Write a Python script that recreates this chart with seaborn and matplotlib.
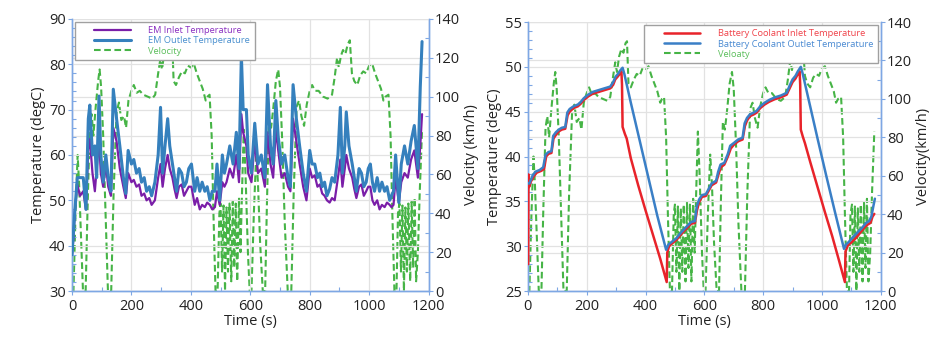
import matplotlib
matplotlib.use("Agg")
import matplotlib.pyplot as plt
import seaborn as sns
from matplotlib.ticker import MultipleLocator
from matplotlib.legend_handler import HandlerLine2D
from matplotlib.lines import Line2D

# ---------------- data ----------------
# drive-cycle velocity (km/h), shared by both charts
vel_t = [0, 5, 12, 19, 24, 30, 37, 46, 52, 60, 66, 72, 80, 88, 93, 98, 105, 113, 121, 132,
         140, 150, 158, 166, 175, 182, 190, 200, 208, 218, 228, 240, 255, 270, 280, 290, 297,
         303, 310, 318, 325, 332, 337, 342, 350, 360, 370, 380, 390, 400, 410, 420, 430, 440,
         450, 456, 463, 470, 476, 483, 490, 496, 500, 505, 510, 515, 520, 525, 530, 536, 541,
         546, 551, 556, 562, 567, 572, 578, 584, 592, 598,
         604, 612, 620, 626, 633, 642, 650, 656, 663, 670, 678, 686, 694, 700, 708, 716, 726,
         738, 746, 756, 764, 772, 781, 790, 800, 808, 818, 830, 845, 860, 875, 884, 892, 898,
         905, 912, 920, 928, 935, 942, 950, 960, 970, 980, 990, 1000, 1010, 1020, 1030, 1040,
         1048, 1055, 1065, 1072, 1078, 1085, 1092, 1097, 1102, 1107, 1112, 1117, 1122, 1127,
         1132, 1138, 1143, 1148, 1153, 1158, 1164, 1170, 1178]
vel_v = [0, 0, 40, 70, 55, 30, 0, 0, 40, 85, 91, 80, 95, 108, 114, 105, 80, 40, 0, 0,
         50, 92, 97, 88, 90, 84, 98, 103, 106, 102, 103, 101, 100, 99, 101, 112, 119,
         114, 122, 126, 124, 129, 130, 108, 106, 110, 113, 112, 116, 115, 117, 112, 108, 104,
         98, 100, 101, 80, 40, 0, 0, 40, 45, 10, 44, 0, 43, 10, 45, 5, 46,
         12, 45, 5, 48, 20, 50, 83, 60, 20, 0,
         0, 40, 71, 55, 25, 0, 0, 45, 88, 84, 95, 108, 114, 105, 75, 35, 0,
         0, 50, 95, 98, 90, 85, 96, 103, 106, 103, 103, 100, 99, 101, 110, 120, 115,
         121, 124, 122, 127, 129, 112, 108, 106, 111, 113, 112, 116, 117, 112, 108, 104,
         98, 100, 101, 80, 40, 0, 0, 40, 45, 10, 44, 0, 43, 10,
         45, 5, 46, 12, 48, 5, 20, 50, 83]

# left chart: EM temperatures (degC)
em_t = [0, 4, 10, 18, 27, 38, 47, 55, 60, 69, 77, 83, 91, 97, 105, 114, 122, 131, 139, 150,
        161, 173, 181, 189, 200, 208, 217, 226, 234, 243, 251, 260, 268, 279, 290, 298, 305,
        313, 322, 329, 338, 345, 352, 360, 369, 377, 385, 393, 402, 413, 421, 430, 438, 447,
        455, 464, 472, 481, 488, 497, 506, 513, 520, 531, 542, 553, 562, 570, 576, 587, 593,
        604, 615, 626, 637, 649, 658, 668, 677, 686, 694, 705, 716, 727, 735, 744, 755, 766,
        778, 789, 800, 808, 817, 826, 834, 842, 850, 858, 867, 875, 884, 895, 903, 910, 918,
        923, 932, 943, 950, 957, 966, 974, 982, 990, 997, 1004, 1011, 1018, 1027, 1035, 1043,
        1052, 1060, 1069, 1075, 1082, 1089, 1100, 1108, 1119, 1130, 1141, 1152, 1164, 1172, 1178]
em_out = [38, 42, 48, 55, 55, 55, 48, 68, 71, 60, 62, 55, 73, 60, 54, 60, 55, 52, 74.5, 68,
          62, 55, 51.5, 61, 58, 59, 56, 57, 54, 55, 52, 53, 51, 54, 60, 70.5, 56,
          62, 68, 62, 58, 55, 52, 57, 56, 53, 54, 57, 58, 52, 55, 52, 54, 52,
          53, 50, 52, 52, 58, 50, 60, 56, 58, 62, 58, 65, 57, 82, 70, 70, 60,
          56, 67, 58, 60, 55, 75.5, 62, 58, 72, 64, 58, 60, 55, 53, 75.5, 68, 62,
          56, 52, 61, 58, 58, 55, 56, 53, 54, 51, 52.5, 55, 54, 60, 70.5, 56, 62,
          69.5, 62, 58, 55, 52, 57, 56, 53, 54, 57, 58, 54, 52, 55, 52, 54,
          52, 53, 50, 51, 52, 60, 49.5, 58, 62, 58, 63, 66.5, 57, 75, 85]
em_in = [38, 41, 48, 53.5, 51, 52, 48, 62, 63.5, 56, 52, 57, 63.5, 56, 53, 58, 53, 51, 66, 63,
         57, 53, 50.5, 56, 54, 54.5, 53, 53.5, 51, 51.5, 50, 50.5, 49, 50, 55, 58, 53,
         57, 60, 57, 55, 52.5, 50.5, 53, 53.5, 51, 52, 53, 53, 49, 50.5, 48, 49, 48.5,
         49.5, 49, 48, 48.5, 52, 49, 54, 53, 54, 57, 55, 60, 54, 69, 65, 62, 56,
         54, 63, 56, 57, 53, 65, 58, 55, 66, 61, 55, 56, 53, 52, 68, 63, 58,
         53, 50, 57, 55, 55.5, 53, 53.5, 51.5, 51, 50, 49.5, 50.5, 50, 55, 59, 53, 57,
         60, 57, 55, 52.5, 50.5, 53, 53.5, 51, 52, 53, 53, 50, 49, 50, 48, 49,
         48.5, 49.5, 49, 48.5, 49, 55, 49.5, 54, 56, 55, 59, 61, 55, 62, 69]

# right chart: battery coolant temperatures (degC)
bat_in_t = [1, 2, 4, 10, 20, 30, 45, 55, 62, 70, 80, 87, 95, 105, 115, 127, 135, 142, 155, 170,
            180, 190, 205, 220, 240, 260, 280, 290, 297, 305, 312, 318, 320, 322, 330, 336, 350,
            375, 400, 425, 450, 472, 474, 480, 490, 505, 520, 540, 555, 568, 575, 582, 592, 605,
            615, 625, 640, 648, 656, 668, 680, 690, 700, 715, 730, 738, 745, 755, 768, 778, 790,
            805, 820, 840, 860, 880, 890, 900, 910, 918, 924, 926, 928, 935, 942, 960, 985, 1010,
            1035, 1058, 1078, 1080, 1088, 1100, 1115, 1130, 1145, 1155, 1165, 1172, 1178]
bat_in = [28, 38, 36.6, 37.2, 37.8, 38.2, 38.4, 38.6, 40.0, 40.3, 40.4, 42.0, 42.4, 42.8, 43.0,
          43.1, 44.6, 45.0, 45.4, 45.6, 45.9, 46.3, 46.7, 47.0, 47.2, 47.4, 47.6, 48.0, 48.6,
          48.9, 49.2, 49.5, 48.0, 43.3, 42.5, 42.0, 39.8, 36.8, 34.0, 31.3, 28.6, 26.0, 29.3,
          30.0, 30.3, 30.7, 31.3, 32.0, 32.5, 32.6, 34.0, 34.9, 35.5, 35.6, 36.2, 36.8, 37.1,
          38.0, 38.8, 39.1, 40.0, 40.9, 41.3, 41.7, 41.9, 43.4, 44.0, 44.5, 44.7, 44.9, 45.4,
          45.8, 46.1, 46.4, 46.6, 46.9, 47.6, 48.3, 48.7, 49.2, 49.5, 48.0, 43.0, 42.2, 41.5,
          39.4, 36.6, 33.8, 31.1, 28.4, 26.0, 29.4, 30.1, 30.4, 30.9, 31.5, 32.1, 32.4, 32.6,
          33.3, 33.6]
bat_out_t = [0, 5, 15, 25, 40, 52, 60, 70, 80, 86, 95, 105, 115, 127, 134, 142, 155, 170, 180,
             190, 205, 220, 240, 260, 280, 290, 298, 306, 314, 322, 328, 350, 380, 410, 440, 470,
             478, 490, 505, 520, 540, 555, 568, 574, 582, 592, 605, 615, 625, 640, 647, 655, 668,
             680, 688, 700, 715, 730, 737, 745, 755, 768, 778, 790, 805, 820, 840, 860, 880, 890,
             900, 910, 918, 928, 934, 955, 985, 1015, 1045, 1075, 1082, 1092, 1105, 1120, 1135,
             1150, 1160, 1168, 1175, 1180]
bat_out = [37.0, 37.0, 37.8, 38.3, 38.5, 38.8, 40.2, 40.5, 40.6, 42.3, 42.7, 43.0, 43.2, 43.3,
           44.9, 45.3, 45.6, 45.8, 46.1, 46.5, 46.9, 47.2, 47.4, 47.6, 47.8, 48.3, 48.9, 49.2,
           49.6, 49.9, 49.2, 46.0, 41.8, 37.6, 33.4, 29.6, 30.2, 30.5, 30.9, 31.5, 32.2, 32.7,
           32.8, 34.4, 35.2, 35.7, 35.8, 36.4, 37.0, 37.3, 38.3, 39.1, 39.3, 40.3, 41.2, 41.5,
           41.9, 42.1, 43.7, 44.3, 44.7, 44.9, 45.1, 45.6, 46.0, 46.3, 46.6, 46.8, 47.1, 47.9,
           48.6, 49.0, 49.5, 50.0, 49.3, 46.3, 42.0, 37.8, 33.7, 29.7, 30.2, 30.5, 31.0, 31.5,
           32.0, 32.6, 32.8, 33.3, 34.5, 35.3]

x_ticks = [0, 200, 400, 600, 800, 1000, 1200]

# ---------------- style ----------------
sns.set_theme(style="white")
plt.rcParams['font.family'] = ['Open Sans', 'DejaVu Sans']

SPINE = '#7ea7e4'
GRID = '#e2e2e2'
GREEN = '#46b446'
DASH = (0, (3.2, 1.7))

fig = plt.figure(figsize=(9.36, 3.44), dpi=100)
fig.patch.set_facecolor('white')
axL = fig.add_axes([0.0769, 0.154, 0.381, 0.791])
axR = fig.add_axes([0.564, 0.154, 0.377, 0.782])


def style(ax, ax2, ylim, ymaj, ymin, ylabel, vlabel, vpad, vgrid):
    ax.set_xlim(0, 1200)
    ax.set_ylim(*ylim)
    ax2.set_ylim(0, 140)
    ax.set_xticks(x_ticks)
    ax.xaxis.set_minor_locator(MultipleLocator(100))
    ax.yaxis.set_major_locator(MultipleLocator(ymaj))
    ax.yaxis.set_minor_locator(MultipleLocator(ymin))
    ax2.yaxis.set_major_locator(MultipleLocator(20))
    ax2.yaxis.set_minor_locator(MultipleLocator(10))
    ax.grid(True, which='major', color=GRID, linewidth=0.9)
    ax2.yaxis.grid(vgrid, which='major', color=GRID, linewidth=0.9)
    ax2.xaxis.grid(False)
    for a in (ax, ax2):
        a.spines['top'].set_visible(False)
        for s in ('left', 'right', 'bottom'):
            a.spines[s].set_color(SPINE)
            a.spines[s].set_linewidth(1.0)
        a.tick_params(which='major', direction='out', length=3, width=0.8,
                      color=SPINE, labelsize=10.5, labelcolor='#222222', pad=1.5)
        a.tick_params(which='minor', direction='in', length=3, width=0.8, color=SPINE)
    ax.tick_params(axis='x', which='major', pad=3)
    ax.tick_params(axis='y', which='both', left=True, right=False)
    ax.tick_params(axis='x', which='both', bottom=True)
    ax2.tick_params(axis='y', which='both', right=True, left=False)
    ax.set_xlabel('Time (s)', fontsize=10.5, color='#222222', labelpad=0)
    ax.set_ylabel(ylabel, fontsize=10.5, color='#222222', labelpad=2)
    ax2.set_ylabel(vlabel, fontsize=10.5, color='#222222', labelpad=vpad)
    # temperatures above velocity
    ax.set_zorder(ax2.get_zorder() + 1)
    ax.patch.set_visible(False)


def legend(ax, ax2, loc, colors):
    h1, l1 = ax.get_legend_handles_labels()
    h2, l2 = ax2.get_legend_handles_labels()
    for a in (ax, ax2):
        if a.get_legend() is not None:
            a.get_legend().remove()
    hm = {Line2D: HandlerLine2D(xpad=1.6)}
    leg = ax.legend(h1 + h2, l1 + l2, loc=loc, fontsize=6.7, frameon=True,
                    fancybox=False, framealpha=1, edgecolor='#a0a0a0',
                    handlelength=5.5, handletextpad=1.9, labelspacing=0.12,
                    borderpad=0.5, borderaxespad=0.3, handler_map=hm)
    leg.get_frame().set_linewidth(1.0)
    for txt, c in zip(leg.get_texts(), colors):
        txt.set_color(c)
    leg.set_zorder(20)


# ---------------- left chart ----------------
axL2 = axL.twinx()
sns.lineplot(x=em_t, y=em_in, ax=axL, color='#7a1ea8', linewidth=1.6,
             label='EM Inlet Temperature', sort=False, zorder=3)
sns.lineplot(x=em_t, y=em_out, ax=axL, color='#3580bd', linewidth=2.2,
             label='EM Outlet Temperature', sort=False, zorder=3)
sns.lineplot(x=vel_t, y=vel_v, ax=axL2, color=GREEN, linewidth=1.5, linestyle=DASH,
             label='Velocity', sort=False)
style(axL, axL2, (30, 90), 10, 2, 'Temperature (degC)', 'Velocity (km/h)', 3, False)
legend(axL, axL2, 'upper left', ['#8a2fc0', '#4a90cf', '#5cbf5c'])

# ---------------- right chart ----------------
axR2 = axR.twinx()
sns.lineplot(x=bat_in_t, y=bat_in, ax=axR, color='#e8232a', linewidth=1.8,
             label='Battery Coolant Inlet Temperature', sort=False, zorder=3)
sns.lineplot(x=bat_out_t, y=bat_out, ax=axR, color='#3a7fc6', linewidth=1.8,
             label='Battery Coolant Outlet Temperature', sort=False, zorder=3)
sns.lineplot(x=vel_t, y=vel_v, ax=axR2, color=GREEN, linewidth=1.5, linestyle=DASH,
             label='Veloaty', sort=False)
style(axR, axR2, (25, 55), 5, 1, 'Temperature (degC)', 'Velocity(km/h)', 3, True)
legend(axR, axR2, 'upper right', ['#f0434a', '#4a8ad2', '#5cbf5c'])

fig.savefig('out.png', dpi=100, facecolor='white')
